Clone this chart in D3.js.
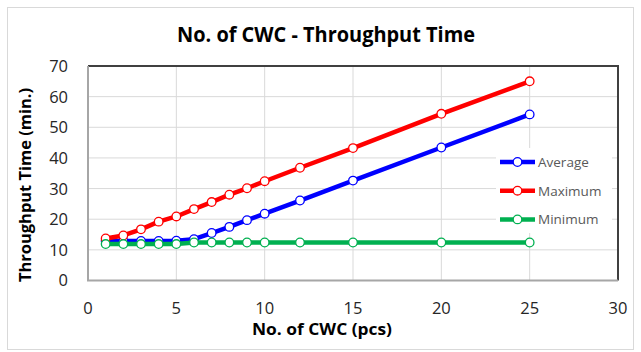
<!DOCTYPE html>
<html>
<head>
<meta charset="utf-8">
<script src="https://cdn.jsdelivr.net/npm/d3@7"></script>
<style>
  body { margin: 0; background: #fff; }
  svg text { font-family: "Open Sans", sans-serif; }
</style>
</head>
<body>
<div id="chart"></div>
<script>
// data
const cwc = [1, 2, 3, 4, 5, 6, 7, 8, 9, 10, 12, 15, 20, 25]
const average = [12.9, 12.9, 12.9, 12.9, 13.0, 13.5, 15.5, 17.5, 19.7, 21.8, 26.1, 32.6, 43.4, 54.2]
const maximum = [13.7, 14.7, 16.7, 19.2, 20.9, 23.3, 25.6, 28.0, 30.1, 32.4, 36.8, 43.2, 54.4, 65.0]
const minimum = [11.9, 11.9, 11.9, 11.9, 11.9, 12.4, 12.4, 12.4, 12.4, 12.4, 12.4, 12.4, 12.4, 12.4]
const xTicks = [0, 5, 10, 15, 20, 25, 30]
const yTicks = [0, 10, 20, 30, 40, 50, 60, 70]

const series = [
  {name: "Average", values: average, color: "#0000ff"},
  {name: "Maximum", values: maximum, color: "#ff0000"},
  {name: "Minimum", values: minimum, color: "#00b050"}
]

const W = 641, H = 352
const svg = d3.select("#chart").append("svg")
  .attr("width", W)
  .attr("height", H)

// outer chart frame
svg.append("rect")
  .attr("x", 7.5).attr("y", 7.5)
  .attr("width", 626).attr("height", 342)
  .attr("fill", "#fff")
  .attr("stroke", "#d9d9d9")

const x = d3.scaleLinear().domain([0, 30]).range([88, 618])
const y = d3.scaleLinear().domain([0, 70]).range([280.5, 66])

// gridlines
svg.append("g")
  .selectAll("line.v")
  .data(xTicks.slice(1, -1))
  .join("line")
    .attr("x1", d => x(d)).attr("x2", d => x(d))
    .attr("y1", y(0)).attr("y2", y(70))
    .attr("stroke", "#d9d9d9").attr("stroke-width", 1)
svg.append("g")
  .selectAll("line.h")
  .data(yTicks.slice(1, -1))
  .join("line")
    .attr("x1", x(0)).attr("x2", x(30))
    .attr("y1", d => y(d)).attr("y2", d => y(d))
    .attr("stroke", "#d9d9d9").attr("stroke-width", 1)

// plot border: dark top/right, grey axes left/bottom
svg.append("path")
  .attr("d", `M${x(0)},${y(70)}H${x(30)}V${y(0)}`)
  .attr("fill", "none")
  .attr("stroke", "#404040")
  .attr("stroke-width", 2)
svg.append("path")
  .attr("d", `M${x(0)},${y(70)}V${y(0)}H${x(30)}`)
  .attr("fill", "none")
  .attr("stroke", "#a6a6a6")
  .attr("stroke-width", 2)

// tick labels
svg.append("g")
  .selectAll("text")
  .data(yTicks)
  .join("text")
    .attr("x", 68)
    .attr("y", d => y(d))
    .attr("dy", "0.36em")
    .attr("text-anchor", "end")
    .attr("font-size", 16.5)
    .attr("fill", "#262626")
    .text(d => d)
svg.append("g")
  .selectAll("text")
  .data(xTicks)
  .join("text")
    .attr("x", d => x(d))
    .attr("y", 314)
    .attr("text-anchor", "middle")
    .attr("font-size", 16.5)
    .attr("fill", "#262626")
    .text(d => d)

// titles
svg.append("text")
  .attr("x", 326).attr("y", 42)
  .attr("text-anchor", "middle")
  .attr("font-size", 21)
  .attr("font-weight", "bold")
  .attr("fill", "#000")
  .attr("textLength", 298)
  .attr("lengthAdjust", "spacingAndGlyphs")
  .text("No. of CWC - Throughput Time")
svg.append("text")
  .attr("x", 322).attr("y", 335)
  .attr("text-anchor", "middle")
  .attr("font-size", 16)
  .attr("font-weight", "bold")
  .attr("fill", "#000")
  .attr("textLength", 140)
  .attr("lengthAdjust", "spacingAndGlyphs")
  .text("No. of CWC (pcs)")
svg.append("text")
  .attr("transform", "translate(31,185) rotate(-90)")
  .attr("text-anchor", "middle")
  .attr("font-size", 16)
  .attr("font-weight", "bold")
  .attr("fill", "#000")
  .attr("textLength", 194)
  .attr("lengthAdjust", "spacingAndGlyphs")
  .text("Throughput Time (min.)")

// legend background hides gridlines behind it
svg.append("rect")
  .attr("x", 496).attr("y", 148)
  .attr("width", 116).attr("height", 85)
  .attr("fill", "#fff")

const line = d3.line()
  .x((d, i) => x(cwc[i]))
  .y(d => y(d))

const sg = svg.append("g")
series.forEach(s => {
  sg.append("path")
    .datum(s.values)
    .attr("d", line)
    .attr("fill", "none")
    .attr("stroke", s.color)
    .attr("stroke-width", 4.5)
    .attr("stroke-linejoin", "round")
  sg.append("g")
    .selectAll("circle")
    .data(s.values)
    .join("circle")
      .attr("cx", (d, i) => x(cwc[i]))
      .attr("cy", d => y(d))
      .attr("r", 4.3)
      .attr("fill", "#fff")
      .attr("stroke", s.color)
      .attr("stroke-width", 1.3)
})

// legend
const lg = svg.append("g")
  .selectAll("g")
  .data(series)
  .join("g")
    .attr("transform", (d, i) => `translate(500,${162 + i * 28.7})`)
lg.append("line")
  .attr("x1", 0).attr("x2", 35)
  .attr("stroke", d => d.color)
  .attr("stroke-width", 4.5)
lg.append("circle")
  .attr("cx", 17.5)
  .attr("r", 4.3)
  .attr("fill", "#fff")
  .attr("stroke", d => d.color)
  .attr("stroke-width", 1.3)
lg.append("text")
  .attr("x", 38)
  .attr("dy", "0.36em")
  .attr("font-size", 13.5)
  .attr("fill", "#595959")
  .text(d => d.name)
</script>
</body>
</html>
